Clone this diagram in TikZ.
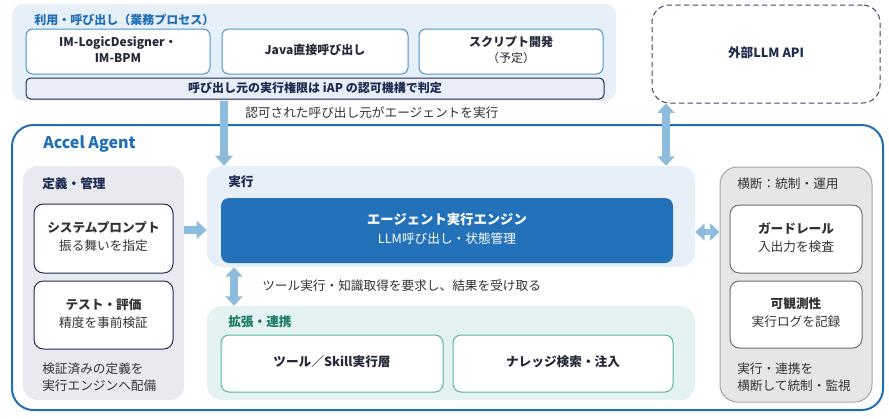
\documentclass[tikz,border=0pt]{standalone}
\usepackage{fontspec}
\setmainfont{Noto Sans CJK JP}
\usetikzlibrary{arrows.meta,calc}
\definecolor{navy}{HTML}{1E2B50}
\definecolor{ablue}{HTML}{1F6FB8}
\definecolor{lightblue}{HTML}{E7F0F8}
\definecolor{boxblue}{HTML}{4A93CC}
\definecolor{barfill}{HTML}{E9EEF8}
\definecolor{arrowc}{HTML}{8DBCDD}
\definecolor{gpanel}{HTML}{E9EAF0}
\definecolor{engine}{HTML}{2372B9}
\definecolor{tealfill}{HTML}{E4F3F1}
\definecolor{tealb}{HTML}{56B3A5}
\definecolor{tealt}{HTML}{1C7A66}
\definecolor{rpanel}{HTML}{E6E6E6}
\definecolor{rborder}{HTML}{A5A5A5}
\definecolor{gboxb}{HTML}{6E6E6E}
\definecolor{txt}{HTML}{333333}
\definecolor{dtxt}{HTML}{242A38}
\newcommand\fsz[2]{\fontsize{#1}{#2}\selectfont}
\begin{document}
\begin{tikzpicture}[x=0.75pt,y=-0.75pt,
  rect/.style args={#1:#2:#3:#4}{at={({(#1+#3)/2},{(#2+#4)/2})}, anchor=center, inner sep=0pt,
     minimum width={(#3-#1)*0.75pt}, minimum height={(#4-#2)*0.75pt}},
  lowtext/.style={text depth=3.6pt},
  panel/.style={rounded corners=8.5pt},
  topbox/.style={draw=boxblue, line width=0.75pt, fill=white, rounded corners=5pt, align=center, text=dtxt, font=\bfseries\fsz{9}{12}, lowtext},
  navybox/.style={draw=navy, line width=0.75pt, fill=white, rounded corners=7pt, align=center, text=txt, font=\fsz{9.5}{13.5}, lowtext},
  greybox/.style={draw=gboxb, line width=0.75pt, fill=white, rounded corners=7pt, align=center, text=txt, font=\fsz{9.5}{13.5}, lowtext},
  tealbox/.style={draw=tealb, line width=0.75pt, fill=white, rounded corners=6pt, align=center, text=dtxt, font=\bfseries\fsz{9.5}{13.5}, lowtext},
  ptitle/.style={anchor=west, inner sep=0pt, font=\bfseries\fsz{9.5}{12}, text=navy},
  plain/.style={anchor=west, inner sep=0pt, font=\fsz{9.5}{12}, text=txt, align=left},
  bigarrow/.style={draw=arrowc, line width=5.5pt, -{Triangle[width=13pt,length=7.5pt]}},
  dblarrow/.style={draw=arrowc, line width=5.5pt, {Triangle[width=12.5pt,length=7pt]}-{Triangle[width=12.5pt,length=7pt]}}
]
\fill[white] (0,0) rectangle (889,418);
\useasboundingbox (0,0) rectangle (889,418);

% top usage panel
\node[rect=12:4:616:101, panel, fill=lightblue] (usage) {};
\node[ptitle, text=ablue, font=\bfseries\fsz{9}{12}] (usaget) at (34,20) {利用・呼び出し（業務プロセス）};
\node[rect=26:29:210:74, topbox] (b1) {IM-LogicDesigner・\\IM-BPM};
\node[rect=222:29:408:74, topbox] (b2) {Java直接呼び出し};
\node[rect=419:29:603:74, topbox] (b3) {スクリプト開発\\{\mdseries（予定）}};
\node[rect=26:78:604:99, draw=navy, line width=0.75pt, fill=barfill, rounded corners=3.5pt, text=navy, font=\bfseries\fsz{9}{12}, text depth=2.4pt] (bar) {呼び出し元の実行権限は iAP の認可機構で判定};

% external LLM
\node[rect=652:5:880:103, draw=navy!85, dash pattern=on 4pt off 2.5pt, line width=0.75pt, rounded corners=13pt, text=navy, font=\bfseries\fsz{9.5}{12}, lowtext] (llm) {外部LLM API};

% label
\node[plain] (lab1) at (245,113) {認可された呼び出し元がエージェントを実行};

% Accel Agent outer
\node[rect=12:125:883:410, draw=ablue, line width=1.5pt, rounded corners=16pt] (accel) {};
\node[ptitle, text=ablue, font=\bfseries\fsz{12}{14}] (accelt) at (43,144) {Accel Agent};

% left panel
\node[rect=23:166:184:400, fill=gpanel, rounded corners=11pt] (left) {};
\node[ptitle] (leftt) at (42,184) {定義・管理};
\node[rect=34:204:173:273, navybox] (sys) {\textbf{システムプロンプト}\\振る舞いを指定};
\node[rect=34:281:173:349, navybox] (test) {\textbf{テスト・評価}\\精度を事前検証};
\node[plain, font=\fsz{9.5}{12.5}] (leftb) at (42,377) {検証済みの定義を\\実行エンジンへ配備};

% exec panel
\node[rect=207:166:695:267, fill=lightblue, rounded corners=11pt] (exec) {};
\node[ptitle] (exect) at (228,182) {実行};
\node[rect=221:198:673:263, fill=engine, rounded corners=6pt, align=center, text=white, font=\fsz{9.5}{14.5}, lowtext] (eng) {{\bfseries\fsz{10}{14.5}エージェント実行エンジン}\\LLM呼び出し・状態管理};

\node[plain] (lab2) at (262,286) {ツール実行・知識取得を要求し、結果を受け取る};

% expansion panel
\node[rect=207:306:695:400, fill=tealfill, rounded corners=11pt] (expand) {};
\node[ptitle, text=tealt] (expandt) at (228,322) {拡張・連携};
\node[rect=221:335:443:392, tealbox] (tool) {ツール／Skill実行層};
\node[rect=453:335:673:392, tealbox] (know) {ナレッジ検索・注入};

% right panel
\node[rect=720:167:872:402, fill=rpanel, draw=rborder, line width=0.75pt, rounded corners=13pt] (right) {};
\node[plain] (rightt) at (737,184) {横断：統制・運用};
\node[rect=730:205:862:273, greybox] (guard) {\textbf{ガードレール}\\入出力を検査};
\node[rect=730:281:862:348, greybox] (obs) {\textbf{可観測性}\\実行ログを記録};
\node[plain, font=\fsz{9.5}{12.5}] (rightb) at (737,377) {実行・連携を\\横断して統制・監視};

% arrows
\coordinate (ax1) at (224,0);
\coordinate (ax2) at (666,0);
\coordinate (ax3) at (234,0);
\coordinate (ay1) at (0,230);
\coordinate (ay2) at (0,232);
\draw[bigarrow] (usage.south -| ax1) -- (exec.north -| ax1);
\draw[dblarrow] (llm.south -| ax2) -- (exec.north -| ax2);
\draw[dblarrow] (exec.south -| ax3) -- (expand.north -| ax3);
\draw[bigarrow] (left.east |- ay1) -- (exec.west |- ay1);
\draw[dblarrow, line width=5pt] (exec.east |- ay2) -- (right.west |- ay2);
\end{tikzpicture}
\end{document}
